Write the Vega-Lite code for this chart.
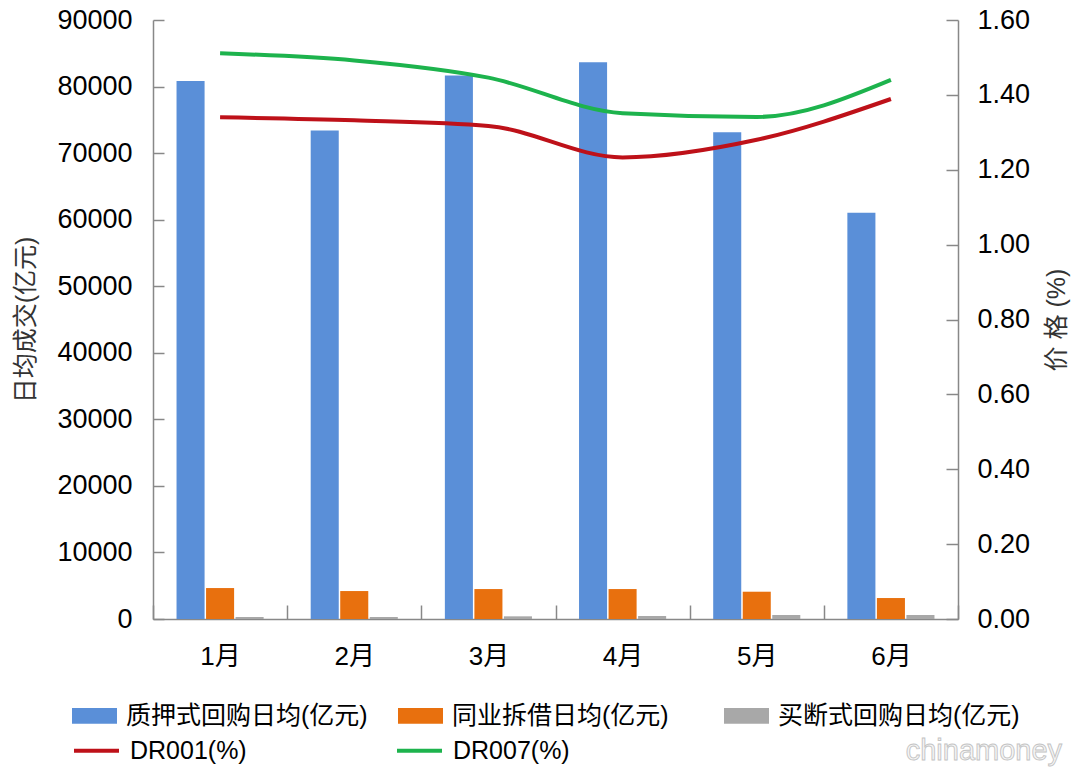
{
  "$schema": "https://vega.github.io/schema/vega-lite/v6.json",
  "width": 805,
  "height": 599,
  "autosize": "none",
  "padding": {"left": 153, "top": 20, "right": 122, "bottom": 162},
  "background": "white",
  "datasets": {
    "bars": [
      {"month": "1月", "series": "质押式回购日均(亿元)", "value": 80850},
      {"month": "1月", "series": "同业拆借日均(亿元)", "value": 4650},
      {"month": "1月", "series": "买断式回购日均(亿元)", "value": 300},
      {"month": "2月", "series": "质押式回购日均(亿元)", "value": 73400},
      {"month": "2月", "series": "同业拆借日均(亿元)", "value": 4200},
      {"month": "2月", "series": "买断式回购日均(亿元)", "value": 300},
      {"month": "3月", "series": "质押式回购日均(亿元)", "value": 81650},
      {"month": "3月", "series": "同业拆借日均(亿元)", "value": 4500},
      {"month": "3月", "series": "买断式回购日均(亿元)", "value": 400},
      {"month": "4月", "series": "质押式回购日均(亿元)", "value": 83650},
      {"month": "4月", "series": "同业拆借日均(亿元)", "value": 4500},
      {"month": "4月", "series": "买断式回购日均(亿元)", "value": 450},
      {"month": "5月", "series": "质押式回购日均(亿元)", "value": 73150},
      {"month": "5月", "series": "同业拆借日均(亿元)", "value": 4100},
      {"month": "5月", "series": "买断式回购日均(亿元)", "value": 600},
      {"month": "6月", "series": "质押式回购日均(亿元)", "value": 61050},
      {"month": "6月", "series": "同业拆借日均(亿元)", "value": 3150},
      {"month": "6月", "series": "买断式回购日均(亿元)", "value": 600}
    ],
    "lines": [
      {"month": "1月", "series": "DR001(%)", "rate": 1.340},
      {"month": "2月", "series": "DR001(%)", "rate": 1.332},
      {"month": "3月", "series": "DR001(%)", "rate": 1.317},
      {"month": "4月", "series": "DR001(%)", "rate": 1.233},
      {"month": "5月", "series": "DR001(%)", "rate": 1.280},
      {"month": "6月", "series": "DR001(%)", "rate": 1.389},
      {"month": "1月", "series": "DR007(%)", "rate": 1.511},
      {"month": "2月", "series": "DR007(%)", "rate": 1.492},
      {"month": "3月", "series": "DR007(%)", "rate": 1.446},
      {"month": "4月", "series": "DR007(%)", "rate": 1.351},
      {"month": "5月", "series": "DR007(%)", "rate": 1.341},
      {"month": "6月", "series": "DR007(%)", "rate": 1.440}
    ],
    "mark": [
      {"month": "6月", "level": -19800, "label": "chinamoney"}
    ]
  },
  "encoding": {
    "x": {
      "field": "month",
      "type": "nominal",
      "sort": null,
      "title": null,
      "scale": {"paddingInner": 0, "paddingOuter": 0},
      "axis": {
        "tickBand": "extent",
        "tickSize": -14,
        "labelPadding": 38,
        "labelAngle": 0,
        "labelFontSize": 26,
        "domainColor": "#888888",
        "tickColor": "#888888"
      }
    }
  },
  "layer": [
    {
      "data": {"name": "bars"},
      "mark": {"type": "bar"},
      "encoding": {
        "xOffset": {
          "field": "series",
          "type": "nominal",
          "sort": ["质押式回购日均(亿元)", "同业拆借日均(亿元)", "买断式回购日均(亿元)"],
          "scale": {"paddingInner": 0.05, "paddingOuter": 0.797}
        },
        "y": {
          "field": "value",
          "type": "quantitative",
          "title": "日均成交(亿元)",
          "scale": {"domain": [0, 90000], "nice": false},
          "axis": {
            "values": [0, 10000, 20000, 30000, 40000, 50000, 60000, 70000, 80000, 90000],
            "format": "d",
            "grid": false,
            "tickSize": -11,
            "labelPadding": 32,
            "labelFontSize": 27,
            "titleFontSize": 25,
            "titleFontWeight": "normal",
            "titleColor": "#333333",
            "titlePadding": 18,
            "domainColor": "#888888",
            "tickColor": "#888888"
          }
        },
        "color": {
          "field": "series",
          "type": "nominal",
          "sort": ["质押式回购日均(亿元)", "同业拆借日均(亿元)", "买断式回购日均(亿元)"],
          "scale": {
            "domain": ["质押式回购日均(亿元)", "同业拆借日均(亿元)", "买断式回购日均(亿元)"],
            "range": ["#5A8FD8", "#E8700E", "#A8A8A8"]
          },
          "legend": {
            "title": null,
            "orient": "none",
            "legendX": -81,
            "legendY": 673,
            "direction": "horizontal",
            "columns": 3,
            "gridAlign": "all",
            "columnPadding": 30,
            "symbolType": "M-1,-0.35H1V0.35H-1Z",
            "symbolSize": 2025,
            "symbolStrokeWidth": 0,
            "symbolOpacity": 1,
            "labelOffset": 9,
            "labelFontSize": 25,
            "labelLimit": 400
          }
        }
      }
    },
    {
      "data": {"name": "lines"},
      "mark": {"type": "line", "interpolate": "monotone", "strokeWidth": 4},
      "encoding": {
        "y": {
          "field": "rate",
          "type": "quantitative",
          "title": "价 格 (%)",
          "scale": {"domain": [0, 1.6], "nice": false},
          "axis": {
            "orient": "right",
            "values": [0, 0.2, 0.4, 0.6, 0.8, 1.0, 1.2, 1.4, 1.6],
            "format": ".2f",
            "grid": false,
            "tickSize": -12,
            "labelPadding": 31,
            "labelFontSize": 27,
            "titleFontSize": 25,
            "titleFontWeight": "normal",
            "titleColor": "#333333",
            "titleAngle": 270,
            "titleBaseline": "top",
            "titlePadding": 15,
            "domainColor": "#888888",
            "tickColor": "#888888"
          }
        },
        "stroke": {
          "field": "series",
          "type": "nominal",
          "scale": {
            "domain": ["DR001(%)", "DR007(%)"],
            "range": ["#BE1119", "#1DB34D"]
          },
          "legend": {
            "title": null,
            "orient": "none",
            "legendX": -81,
            "legendY": 706,
            "direction": "horizontal",
            "columns": 2,
            "gridAlign": "all",
            "columnPadding": 142,
            "symbolType": "stroke",
            "symbolSize": 2025,
            "symbolStrokeWidth": 4,
            "labelOffset": 9,
            "labelFontSize": 25
          }
        }
      }
    },
    {
      "data": {"name": "mark"},
      "mark": {
        "type": "text",
        "dx": 93,
        "fontSize": 29,
        "fill": "#f6f6f6",
        "stroke": "#c4c4c4",
        "strokeWidth": 0.9,
        "letterSpacing": 1
      },
      "encoding": {
        "y": {"field": "level", "type": "quantitative", "scale": {"domain": [0, 90000], "nice": false}, "axis": null},
        "text": {"field": "label"}
      }
    }
  ],
  "resolve": {"scale": {"y": "independent"}},
  "config": {
    "font": "Liberation Sans, Noto Sans CJK SC",
    "view": {"stroke": null},
    "axis": {"labelColor": "#000000", "domainWidth": 1.5, "tickWidth": 1.5},
    "legend": {"labelColor": "#000000", "padding": 0, "rowPadding": 14}
  }
}
